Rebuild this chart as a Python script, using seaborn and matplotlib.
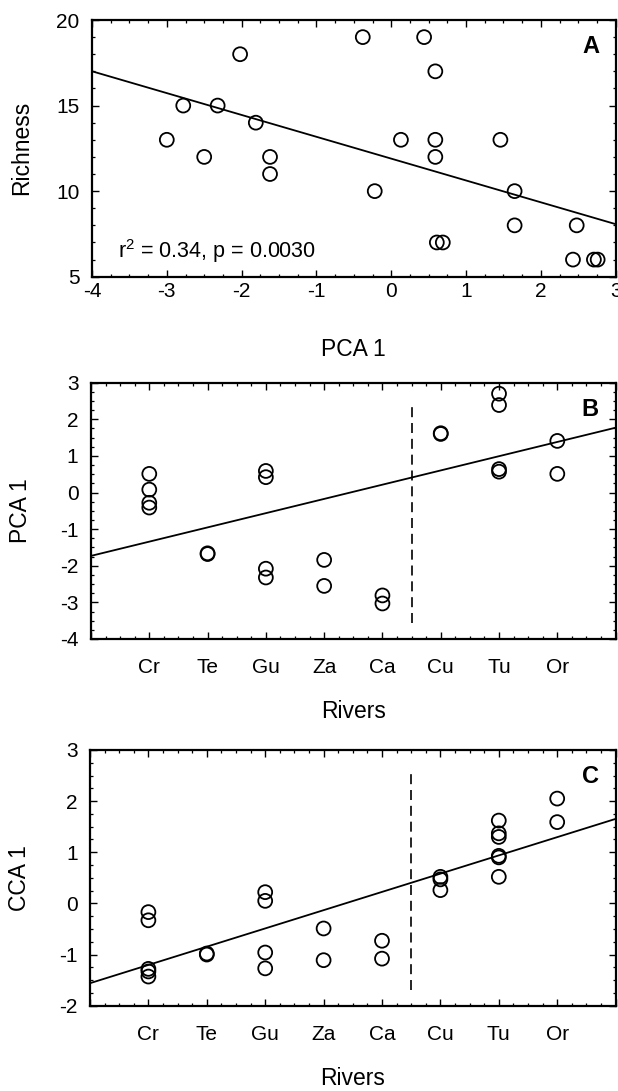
import matplotlib
matplotlib.use('Agg')
import matplotlib.pyplot as plt
from matplotlib.ticker import MultipleLocator
import seaborn as sns

# Panel A: richness vs PCA 1
pca_a = [-3.00, -2.78, -2.50, -2.32, -2.02, -1.81, -1.62, -1.62, -0.38, -0.22,
         0.13, 0.44, 0.59, 0.59, 0.59, 0.61, 0.69, 1.46, 1.65, 1.65,
         2.48, 2.43, 2.71, 2.76]
richness = [13, 15, 12, 15, 18, 14, 12, 11, 19, 10,
            13, 19, 17, 13, 12, 7, 7, 13, 10, 8,
            8, 6, 6, 6]
fit_a = (11.9, -1.276)  # intercept, slope
stats_a = "r$^2$ = 0.34, p = 0.0030"

# Panels B and C: scores by river
rivers = ["Cr", "Te", "Gu", "Za", "Ca", "Cu", "Tu", "Or"]

pca_rivers = (["Cr"] * 4 + ["Te"] * 2 + ["Gu"] * 4 + ["Za"] * 2 + ["Ca"] * 2
              + ["Cu"] * 2 + ["Tu"] * 4 + ["Or"] * 2)
pca_scores = [0.51, 0.08, -0.28, -0.41, -1.66, -1.68, 0.59, 0.42, -2.08, -2.32,
              -1.84, -2.55, -2.81, -3.03, 1.62, 1.60, 2.70, 2.39, 0.64, 0.57,
              1.41, 0.51]
fit_b = (-1.73, 0.389)
sep_b = (-3.57, 2.36)

cca_rivers = (["Cr"] * 5 + ["Te"] * 2 + ["Gu"] * 4 + ["Za"] * 2 + ["Ca"] * 2
              + ["Cu"] * 3 + ["Tu"] * 6 + ["Or"] * 2)
cca_scores = [-0.17, -0.33, -1.28, -1.33, -1.43, -0.98, -1.00, 0.22, 0.05, -0.96,
              -1.27, -0.49, -1.11, -0.73, -1.08, 0.52, 0.47, 0.26, 1.62, 1.37,
              1.30, 0.93, 0.90, 0.52, 2.05, 1.59]
fit_c = (-1.56, 0.357)
sep_c = (-1.69, 2.56)

sep_x = 5.5  # boundary between the two river groups

sns.set_style("ticks")
plt.rcParams.update({
    'font.family': ['Liberation Sans', 'DejaVu Sans'],
    'mathtext.fontset': 'custom',
    'mathtext.rm': 'Liberation Sans',
    'axes.unicode_minus': False,
    'text.color': 'black',
    'axes.labelcolor': 'black',
    'xtick.direction': 'in',
    'ytick.direction': 'in',
    'xtick.top': True,
    'ytick.right': True,
    'xtick.major.size': 5,
    'ytick.major.size': 5,
    'xtick.minor.size': 2.5,
    'ytick.minor.size': 2.5,
    'xtick.major.width': 1.0,
    'ytick.major.width': 1.0,
    'xtick.minor.width': 0.9,
    'ytick.minor.width': 0.9,
    'axes.linewidth': 1.6,
    'axes.edgecolor': 'black',
    'xtick.color': 'black',
    'ytick.color': 'black',
})

W, H = 618, 1091
fig = plt.figure(figsize=(W / 100, H / 100), dpi=100)


def px_axes(left, top, right, bottom):
    return fig.add_axes([left / W, 1 - bottom / H, (right - left) / W, (bottom - top) / H])


def style_axes(ax, ylabel, letter):
    ax.tick_params(which='both', labelsize=15)
    ax.set_ylabel(ylabel, fontsize=16.5)
    ax.yaxis.label.set_va('center')
    ax.yaxis.set_label_coords(-0.134, 0.5)
    ax.text(0.952, 0.895, letter, transform=ax.transAxes, ha='center', va='center',
            fontsize=17, fontweight='bold')
    for sp in ax.spines.values():
        sp.set_visible(True)


def draw_fit(ax, fit):
    ax.axline((0, fit[0]), slope=fit[1], color='black', lw=1.3, zorder=2)


def scatter(ax, x, y):
    sns.scatterplot(x=x, y=y, ax=ax, s=100, marker='o', facecolors='none',
                    edgecolor='black', linewidth=1.3, zorder=3)


# ---- A ----
axA = px_axes(92, 20, 615.6, 276.7)
axA.set_xlim(-4, 3)
axA.set_ylim(5, 20)
draw_fit(axA, fit_a)
scatter(axA, pca_a, richness)
axA.xaxis.set_major_locator(MultipleLocator(1))
axA.xaxis.set_minor_locator(MultipleLocator(0.25))
axA.yaxis.set_major_locator(MultipleLocator(5))
axA.yaxis.set_minor_locator(MultipleLocator(1))
axA.tick_params(axis='x', pad=4)
axA.tick_params(axis='y', pad=9)
axA.set_xlabel("PCA 1", fontsize=16.5)
axA.xaxis.label.set_va('center')
axA.xaxis.set_label_coords(0.5, -0.285)
style_axes(axA, "Richness", "A")
axA.text(0.05, 0.10, stats_a, transform=axA.transAxes, ha='left', va='center',
         fontsize=15.5)

# ---- B and C ----
pos = {r: i + 1 for i, r in enumerate(rivers)}


def river_panel(ax, river_list, scores, ylim, fit, sep, ylabel, letter):
    xs = [pos[r] for r in river_list]
    ax.set_xlim(0, len(rivers) + 1)
    ax.set_ylim(*ylim)
    draw_fit(ax, fit)
    ax.vlines(sep_x, sep[0], sep[1], colors='black', lw=1.2,
              linestyles=(0, (6, 3.5)), zorder=2)
    scatter(ax, xs, scores)
    ax.xaxis.set_major_locator(MultipleLocator(1))
    ax.xaxis.set_minor_locator(MultipleLocator(0.25))
    ax.xaxis.set_major_formatter(plt.FuncFormatter(
        lambda v, p: rivers[int(round(v)) - 1] if 1 <= round(v) <= len(rivers) else ""))
    ax.yaxis.set_major_locator(MultipleLocator(1))
    ax.yaxis.set_minor_locator(MultipleLocator(0.25))
    ax.tick_params(axis='x', pad=14)
    ax.tick_params(axis='y', pad=9)
    ax.set_xlabel("Rivers", fontsize=16.5)
    ax.xaxis.label.set_va('center')
    ax.xaxis.set_label_coords(0.5, -0.283)
    style_axes(ax, ylabel, letter)


axB = px_axes(91, 382.7, 615.6, 639)
river_panel(axB, pca_rivers, pca_scores, (-4, 3), fit_b, sep_b, "PCA 1", "B")

axC = px_axes(90, 750, 615.6, 1005.7)
river_panel(axC, cca_rivers, cca_scores, (-2, 3), fit_c, sep_c, "CCA 1", "C")

fig.savefig("out.png", dpi=100, facecolor='white')
plt.close(fig)
